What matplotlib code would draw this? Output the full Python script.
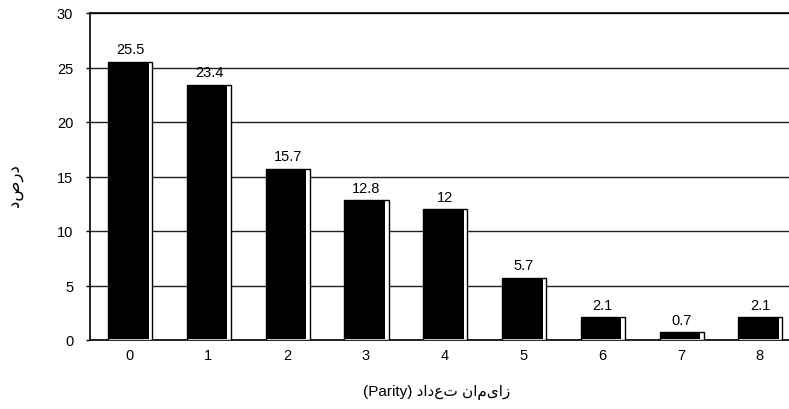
import matplotlib
matplotlib.use("Agg")
import matplotlib.pyplot as plt

plt.rcParams['font.family'] = ['Liberation Sans', 'DejaVu Sans']

categories = ["0", "1", "2", "3", "4", "5", "6", "7", "8"]
values = [25.5, 23.4, 15.7, 12.8, 12, 5.7, 2.1, 0.7, 2.1]
value_labels = ["25.5", "23.4", "15.7", "12.8", "12", "5.7", "2.1", "0.7", "2.1"]
yticks = [0, 5, 10, 15, 20, 25, 30]
xlabel = "(Parity) دادعت نامیاز"
ylabel = "دصرد"

W, H = 789, 410
fig = plt.figure(figsize=(W / 100, H / 100), dpi=100)
left, right, top, bottom = 90, 799, 14, 341
ax = fig.add_axes([left / W, 1 - bottom / H, (right - left) / W, (bottom - top) / H])

x = list(range(len(categories)))
# outer white box with black edge
ax.bar([i - 0.27 for i in x], values, width=0.56, align='edge', color='white',
       edgecolor='black', linewidth=1.0, zorder=3)
# inner black fill
ax.bar([i - 0.27 for i in x], [v - 0.12 for v in values], bottom=0.12, width=0.515,
       align='edge', color='black', edgecolor='none', zorder=4)

for i, (v, t) in enumerate(zip(values, value_labels)):
    ax.annotate(t, (i + 0.01, v), xytext=(0, 4), textcoords='offset points',
                ha='center', va='bottom', fontsize=10.5, zorder=5)

ax.set_xlim(-0.5, 8.5)
ax.set_ylim(0, 30)
ax.set_yticks(yticks)
ax.set_xticks(x)
ax.set_xticklabels(categories)
ax.tick_params(axis='x', length=0, pad=6, labelsize=10.5)
ax.tick_params(axis='y', length=3, width=1, direction='out', pad=9, labelsize=10.5)
ax.yaxis.grid(True, color='#222222', linewidth=1.0, zorder=0)
ax.set_axisbelow(True)
for s in ax.spines.values():
    s.set_color('black')
    s.set_linewidth(1.2)

fig.text(437 / W, 1 - 393 / H, xlabel, ha='center', va='center', fontsize=11)
fig.text(15 / W, 1 - 186 / H, ylabel, ha='center', va='center', rotation=90, fontsize=12)

fig.savefig("out.png", dpi=100, facecolor='white')
